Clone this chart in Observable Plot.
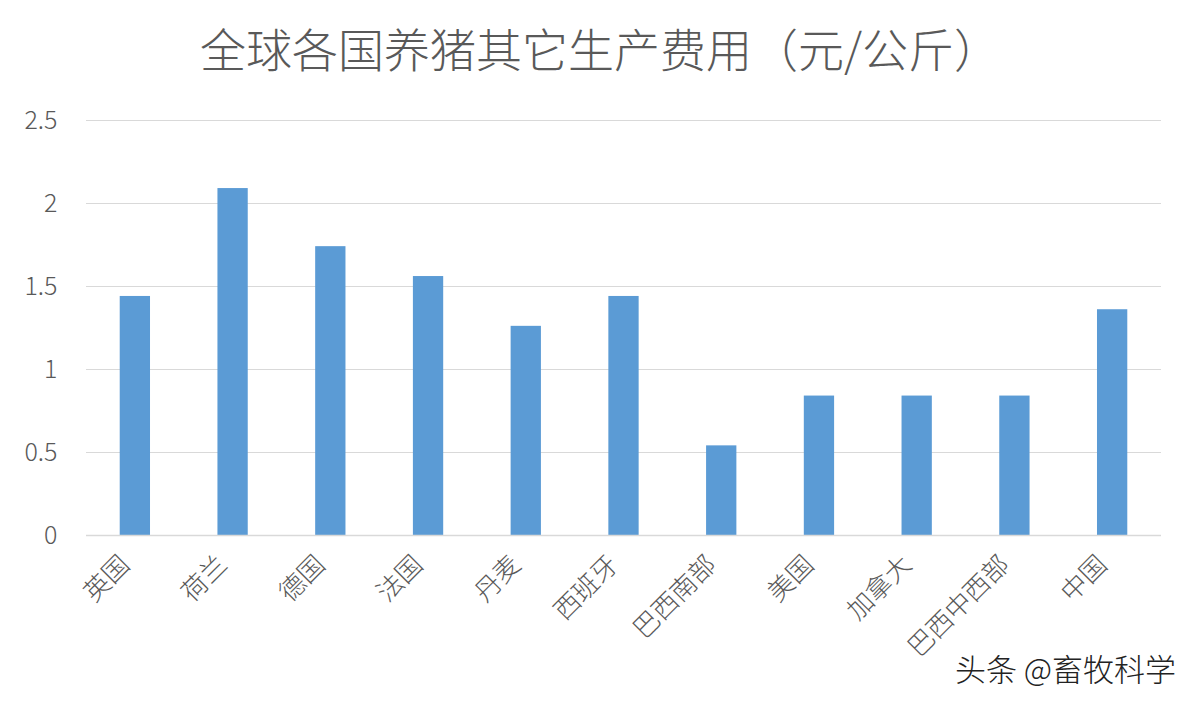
<!DOCTYPE html>
<html><head><meta charset="utf-8">
<script src="https://cdn.jsdelivr.net/npm/d3@7"></script>
<script src="https://cdn.jsdelivr.net/npm/@observablehq/plot@0.6"></script>
<style>
body{margin:0;background:#fff;font-family:"Noto Sans CJK SC","Noto Sans",sans-serif;}
#wrap{position:relative;width:1196px;height:706px;overflow:hidden;}
#title{position:absolute;left:0;top:13px;width:1200px;text-align:center;font-size:46px;line-height:68px;color:#595959;font-weight:300;}
#chart{position:absolute;left:0;top:95px;}
#mark{position:absolute;left:955px;top:646px;font-size:31px;line-height:44px;color:#222;font-weight:300;}
</style></head>
<body><div id="wrap">
<div id="title">全球各国养猪其它生产费用（元/公斤）</div>
<div id="chart"></div>
<div id="mark">头条 @畜牧科学</div>
</div>
<script>
const countries = ["英国","荷兰","德国","法国","丹麦","西班牙","巴西南部","美国","加拿大","巴西中西部","中国"];
const costs = [1.44, 2.09, 1.74, 1.56, 1.26, 1.44, 0.54, 0.84, 0.84, 0.84, 1.36];
const yTicks = [0, 0.5, 1, 1.5, 2, 2.5];
const data = countries.map((c, i) => ({country: c, cost: costs[i]}));

const plot = Plot.plot({
  width: 1196,
  height: 611,
  marginTop: 25,
  marginBottom: 171,
  marginLeft: 86,
  marginRight: 35,
  style: {fontFamily: '"Noto Sans CJK SC","Noto Sans",sans-serif', color: "#595959", background: "transparent"},
  x: {domain: countries, paddingInner: 0.69, paddingOuter: 0.345, align: 0.5, round: false, label: null},
  y: {domain: [0, 2.5], label: null},
  marks: [
    Plot.gridY(yTicks, {stroke: "#d9d9d9", strokeOpacity: 1, strokeWidth: 1}),
    Plot.barY(data, {x: "country", y: "cost", fill: "#5b9bd5"}),
    Plot.ruleY([0], {stroke: "#d9d9d9", strokeWidth: 1.5}),
    Plot.axisY(yTicks, {tickSize: 0, tickPadding: 29, fontSize: 25, fontWeight: 300, tickFormat: d => String(d), label: null}),
    Plot.axisX({tickSize: 0, tickRotate: -45, tickPadding: 22, dx: -10, dy: 3, fontSize: 26, fontWeight: 300, label: null})
  ]
});
document.getElementById("chart").appendChild(plot);
</script>
</body></html>
